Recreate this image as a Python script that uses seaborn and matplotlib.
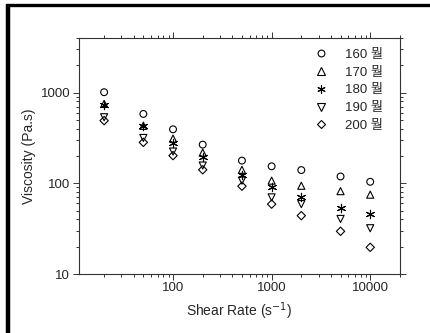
import numpy as np
import pandas as pd
import matplotlib
matplotlib.use("Agg")
import matplotlib.pyplot as plt
from matplotlib.lines import Line2D
import seaborn as sns

# shear rate (1/s) and viscosity (Pa.s) per melt temperature
shear_rate = [20, 50, 100, 200, 500, 1000, 2000, 5000, 10000]
temps = ["160 뭘", "170 뭘", "180 뭘", "190 뭘", "200 뭘"]
visc_160 = [1010, 582, 394, 267, 178, 154, 140, 119, 104]
visc_170 = [750, 430, 311, 218, 141, 107, 94, 82, 75]
visc_180 = [738, 425, 279, 197, 125, 90, 70, 53.5, 46]
visc_190 = [535, 316, 224, 157, 107, 70, 59, 40.5, 32]
visc_200 = [491, 283, 202, 141, 93, 59, 44, 29.6, 19.7]

series = [visc_160, visc_170, visc_180, visc_190, visc_200]
markers = ["o", "^", (6, 2, 0), "v", "D"]
sizes = [24, 26, 36, 26, 18]

sns.set_style("ticks")
plt.rcParams['font.family'] = ['Liberation Sans', 'Noto Sans CJK KR', 'DejaVu Sans']

fig = plt.figure(figsize=(4.3, 3.33), dpi=100)
ax = fig.add_axes([0.1826, 0.177, 0.930 - 0.1826, 0.886 - 0.177])

df = pd.DataFrame({
    "shear": np.tile(shear_rate, len(temps)),
    "visc": np.concatenate(series),
    "temp": np.repeat(temps, len(shear_rate)),
})

for t, m, s in zip(temps, markers, sizes):
    sub = df[df["temp"] == t]
    if isinstance(m, tuple):
        sns.scatterplot(data=sub, x="shear", y="visc", marker=m, s=s, color="black",
                        linewidth=0.8, ax=ax, legend=False)
    else:
        sns.scatterplot(data=sub, x="shear", y="visc", marker=m, s=s,
                        facecolors="none", edgecolor="black", linewidth=0.8,
                        ax=ax, legend=False)

ax.set_xscale("log")
ax.set_yscale("log")
ax.set_xlim(11, 20000)
ax.set_ylim(10, 4000)
ax.set_xticks([100, 1000, 10000])
ax.set_xticklabels(["100", "1000", "10000"])
ax.set_yticks([10, 100, 1000])
ax.set_yticklabels(["10", "100", "1000"])
ax.set_xlabel("Shear Rate (s$^{-1}$)", fontsize=10, labelpad=4)
ax.set_ylabel("Viscosity (Pa.s)", fontsize=10, labelpad=3)

for sp in ax.spines.values():
    sp.set_linewidth(0.8)
    sp.set_color("#333333")
ax.tick_params(which="both", direction="out", top=True, right=True,
               labeltop=False, labelright=False, color="#333333", width=0.7)
ax.tick_params(which="major", length=4, labelsize=9.5, pad=2)
ax.tick_params(which="minor", length=2)

handles = []
for t, m, s in zip(temps, markers, sizes):
    if isinstance(m, tuple):
        h = Line2D([], [], marker=m, linestyle="none", color="black",
                   markersize=np.sqrt(s), markeredgewidth=0.8)
    else:
        h = Line2D([], [], marker=m, linestyle="none", markerfacecolor="none",
                   markeredgecolor="black", markersize=np.sqrt(s), markeredgewidth=0.8)
    handles.append(h)
ax.legend(handles, temps, loc="upper right", frameon=False, fontsize=9.5,
          handletextpad=1.3, labelspacing=0.42, bbox_to_anchor=(0.984, 1.005),
          handlelength=1.0)

# thick frame around the figure (left and top edges)
fig.add_artist(Line2D([8 / 430, 8 / 430], [0, 1 - 4 / 333], color="black", lw=3.2,
                      solid_capstyle="butt", transform=fig.transFigure))
fig.add_artist(Line2D([6 / 430, 1], [1 - 5 / 333, 1 - 5 / 333], color="black", lw=2.4,
                      solid_capstyle="butt", transform=fig.transFigure))

fig.savefig("out.png", dpi=100)
